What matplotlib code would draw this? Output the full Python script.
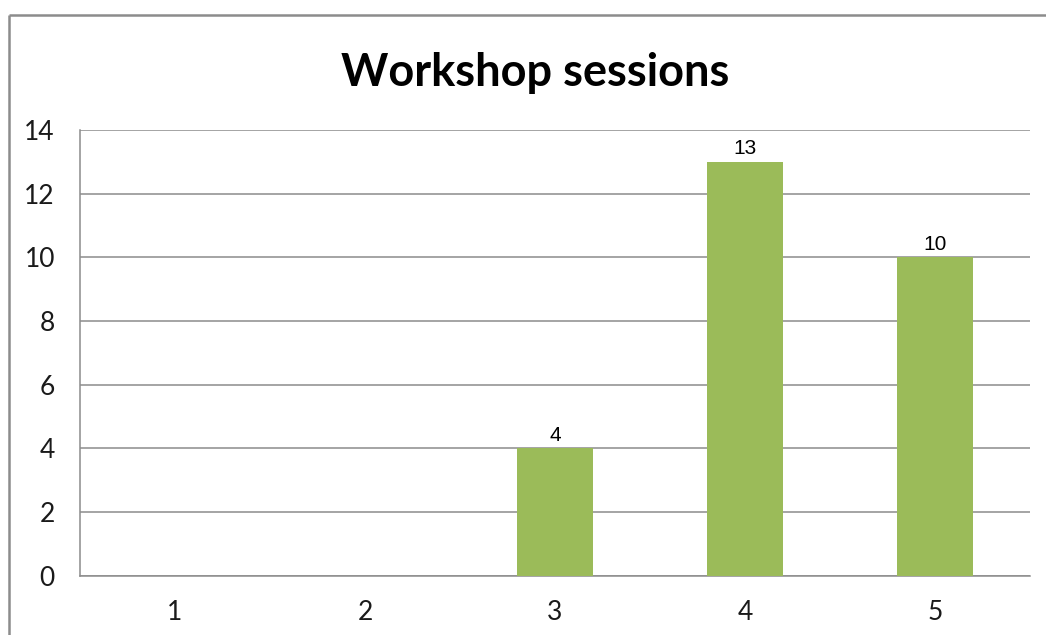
import matplotlib
matplotlib.use("Agg")
import matplotlib.pyplot as plt
from matplotlib.lines import Line2D

# Workshop session counts by rating
categories = ["1", "2", "3", "4", "5"]
sessions = [0, 0, 4, 13, 10]
y_ticks = [0, 2, 4, 6, 8, 10, 12, 14]
title = "Workshop sessions"

W, H = 1046, 635
fig = plt.figure(figsize=(W / 100, H / 100), dpi=100)
fig.patch.set_facecolor("white")

# Chart frame: left and top edges only (the rest runs off the canvas)
frame_kw = dict(transform=fig.transFigure, color="#8c8c8c", linewidth=1.8,
                solid_capstyle="butt")
fig.add_artist(Line2D([9 / W, 9 / W], [0, 1 - 15 / H], **frame_kw))
fig.add_artist(Line2D([9 / W, 1], [1 - 15 / H, 1 - 15 / H], **frame_kw))

ax = fig.add_axes([80 / W, (H - 575.5) / H, 950 / W, 445.5 / H])
x = list(range(len(categories)))
bars = ax.bar(x, sessions, width=0.4, color="#9BBB59", zorder=3)

for xi, v in zip(x, sessions):
    if v > 0:
        ax.annotate(str(v), (xi, v), xytext=(0, 2.5), textcoords="offset points",
                    ha="center", va="bottom", fontsize=15,
                    family="Liberation Sans", color="black")

ax.set_xlim(-0.5, len(categories) - 0.5)
ax.set_ylim(0, 14)
ax.set_yticks(y_ticks)
ax.set_xticks(x)
ax.set_xticklabels(categories)
ax.yaxis.grid(True, color="#8c8c8c", linewidth=1.1, zorder=0)
ax.set_axisbelow(True)
for side in ("top", "right"):
    ax.spines[side].set_visible(False)
for side in ("left", "bottom"):
    ax.spines[side].set_color("#8c8c8c")
    ax.spines[side].set_linewidth(1.1)
ax.tick_params(length=0, labelsize=19, colors="#1a1a1a")
ax.tick_params(axis="y", pad=18)
ax.tick_params(axis="x", pad=18)
for lbl in ax.get_xticklabels() + ax.get_yticklabels():
    lbl.set_family("Lato")

fig.text(535 / W, 1 - 73 / H, title, ha="center", va="center",
         fontsize=32.5, fontweight="bold", family="Lato", color="black")

fig.savefig("out.png", dpi=100, facecolor="white")
